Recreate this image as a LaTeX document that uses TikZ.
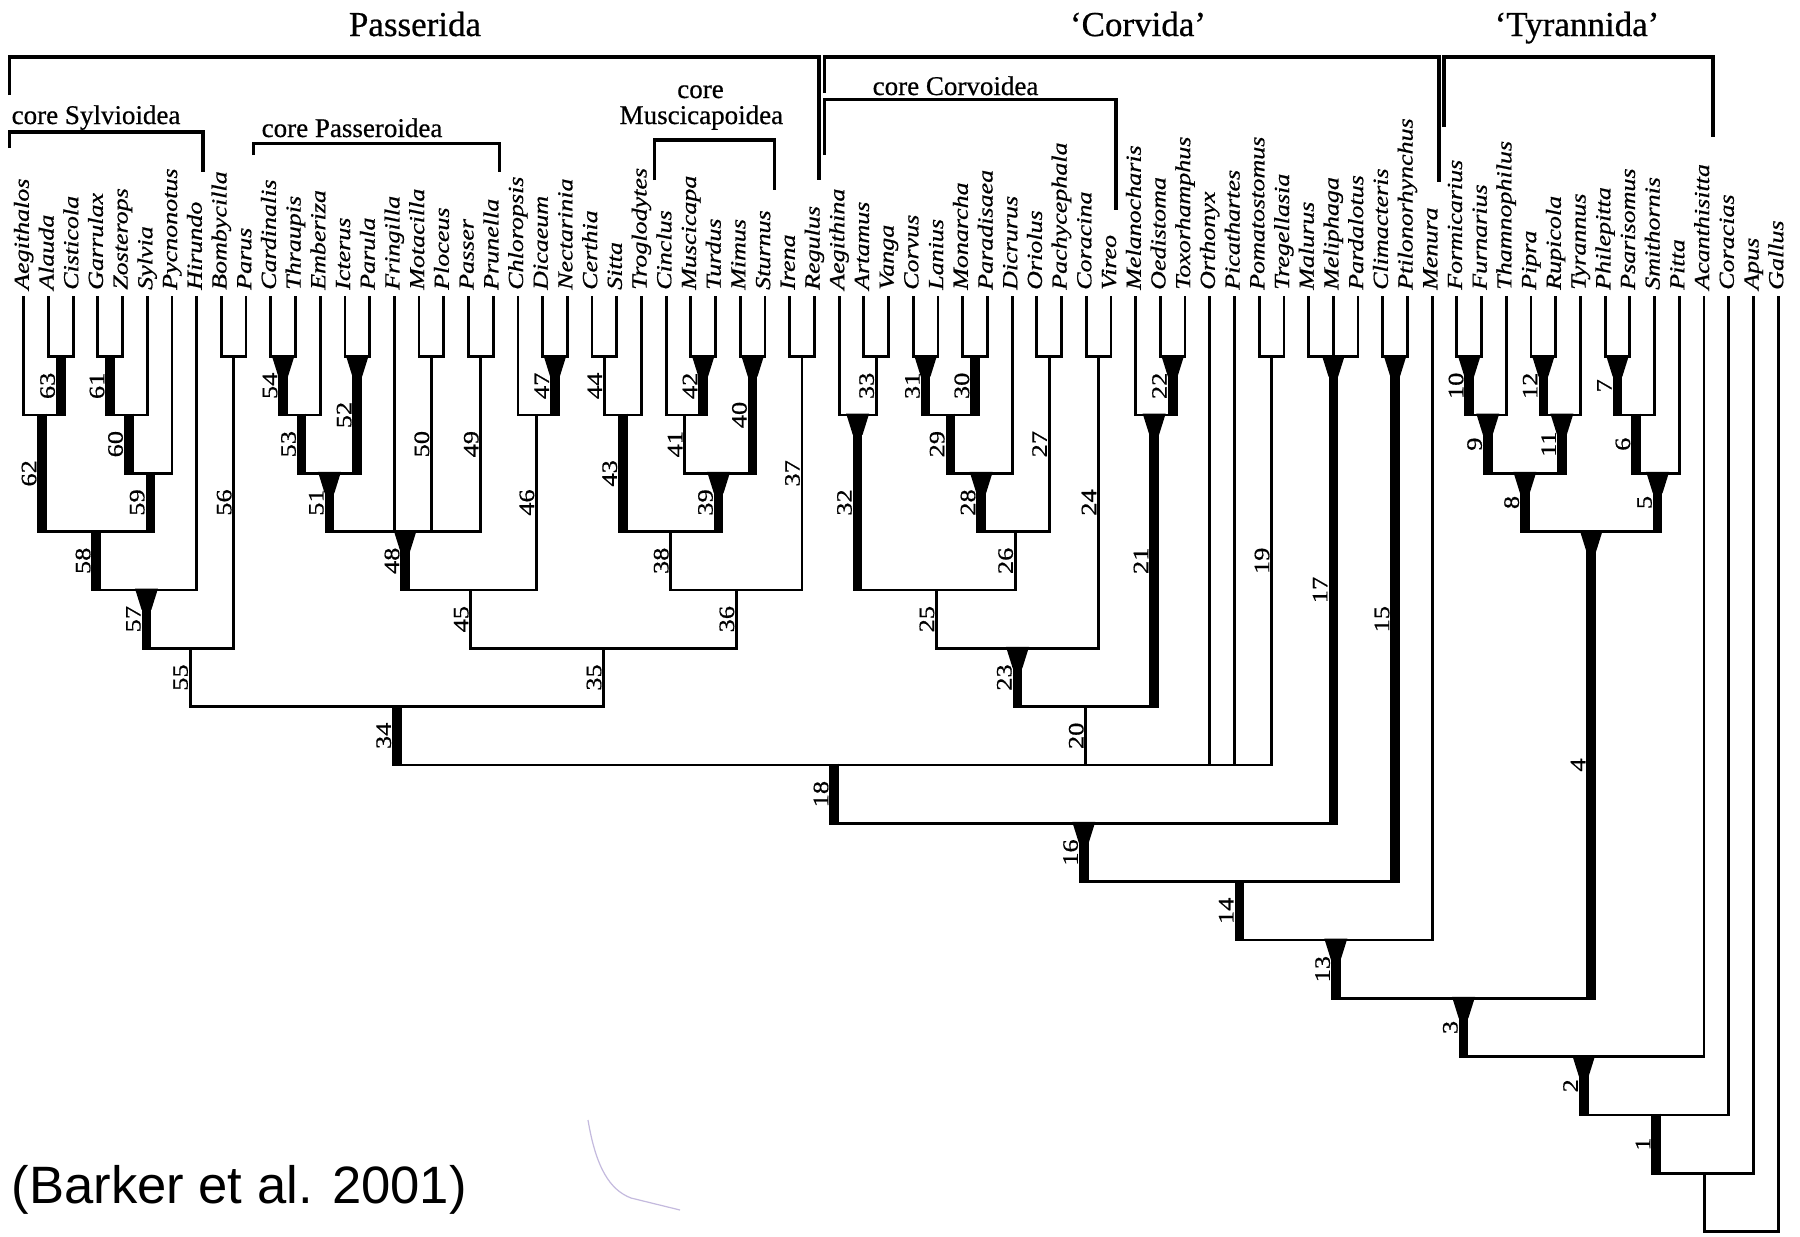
\documentclass[tikz,border=0pt]{standalone}
\usepackage{fontspec}
\setmainfont{Liberation Serif}
\newfontfamily\labfont[FakeBold=0.6]{Liberation Serif}
\newfontfamily\capfont{Liberation Sans}
\usepackage{graphicx}
\usetikzlibrary{calc}

\tikzset{
  br/.style={line width=2.8pt, line cap=rect},
  thk/.style={line width=9.6pt, shorten <=-1.4pt, shorten >=-1.4pt},
  brk/.style={line width=3.2pt, line join=miter},
  taxon/.style={rotate=90, anchor=west, inner sep=0pt, font=\labfont\fontsize{21.5}{24}\selectfont\itshape, text height=15pt, text depth=4.8pt},
  num/.style={rotate=90, anchor=south, inner sep=0pt, font=\labfont\fontsize{22}{24}\selectfont, text height=14.9pt, text depth=0pt},
  grp/.style={inner sep=0pt, font=\labfont\fontsize{35}{40}\selectfont},
  sub/.style={inner sep=0pt, font=\labfont\fontsize{27}{30}\selectfont}
}

\newcommand\mkclade[4]{\coordinate (tmpa) at ($(#2)!.5!(#3)$); \coordinate (#1) at (tmpa |- #4); \draw[br] (#2 |- #1) -- (#3 |- #1);}
\newcommand\tipsto[2]{\foreach \j in {#2}{\draw[br] (t\j) -- (t\j |- #1);}}
\newcommand\stemlab[4]{\coordinate (tmpb) at (#1 |- #2); \node[num] (lab#3) at ($(#1)!.5!(tmpb)+(-#4,0)$) {\scalebox{1.2}[1]{#3}};}
\newcommand\brthin[3]{\draw[br] (#1) -- (#1 |- #2); \stemlab{#1}{#2}{#3}{2.2}}
\newcommand\brthick[3]{\draw[thk] (#1) -- (#1 |- #2); \stemlab{#1}{#2}{#3}{5.8}}
\newcommand\brwedge[3]{\fill ($(#1)+(-11.5,-1.4)$) -- ($(#1)+(11.5,-1.4)$) -- ($(#1)+(4.8,20)$) -- ($(#1)+(-4.8,20)$) -- cycle; \draw[thk] ($(#1)+(0,19)$) -- (#1 |- #2); \stemlab{#1}{#2}{#3}{5.8}}

\begin{document}
\begin{tikzpicture}[x=1pt,y=-1pt]
\useasboundingbox (0,0) rectangle (1800,1237);
\fill[white] (0,0) rectangle (1800,1237);

% levels
\foreach \k in {1,...,16} {\coordinate (L\k) at (0,{298.33+58.33*\k});}

% taxa
\foreach \nm [count=\i] in {Aegithalos,Alauda,Cisticola,Garrulax,Zosterops,Sylvia,Pycnonotus,Hirundo,Bombycilla,Parus,Cardinalis,Thraupis,Emberiza,Icterus,Parula,Fringilla,Motacilla,Ploceus,Passer,Prunella,Chloropsis,Dicaeum,Nectarinia,Certhia,Sitta,Troglodytes,Cinclus,Muscicapa,Turdus,Mimus,Sturnus,Irena,Regulus,Aegithina,Artamus,Vanga,Corvus,Lanius,Monarcha,Paradisaea,Dicrurus,Oriolus,Pachycephala,Coracina,Vireo,Melanocharis,Oedistoma,Toxorhamphus,Orthonyx,Picathartes,Pomatostomus,Tregellasia,Malurus,Meliphaga,Pardalotus,Climacteris,Ptilonorhynchus,Menura,Formicarius,Furnarius,Thamnophilus,Pipra,Rupicola,Tyrannus,Philepitta,Psarisomus,Smithornis,Pitta,Acanthisitta,Coracias,Apus,Gallus} {
  \coordinate (t\i) at ({23.7+(\i-1)*24.71},297);
  \node[taxon] (tx\i) at ({23.7+(\i-1)*24.71},290) {\scalebox{1.21}[1]{\nm}};
}

% clades (bars)
\mkclade{N63}{t2}{t3}{L1}
\mkclade{N62}{t1}{N63}{L2}
\mkclade{N61}{t4}{t5}{L1}
\mkclade{N60}{N61}{t6}{L2}
\mkclade{N59}{N60}{t7}{L3}
\mkclade{N58}{N62}{N59}{L4}
\mkclade{N57}{N58}{t8}{L5}
\mkclade{N56}{t9}{t10}{L1}
\mkclade{N55}{N57}{N56}{L6}
\mkclade{N54}{t11}{t12}{L1}
\mkclade{N53}{N54}{t13}{L2}
\mkclade{N52}{t14}{t15}{L1}
\mkclade{N51}{N53}{N52}{L3}
\mkclade{N50}{t17}{t18}{L1}
\mkclade{N49}{t19}{t20}{L1}
\mkclade{N48}{N51}{N49}{L4}
\mkclade{N47}{t22}{t23}{L1}
\mkclade{N46}{t21}{N47}{L2}
\mkclade{N45}{N48}{N46}{L5}
\mkclade{N44}{t24}{t25}{L1}
\mkclade{N43}{N44}{t26}{L2}
\mkclade{N42}{t28}{t29}{L1}
\mkclade{N41}{t27}{N42}{L2}
\mkclade{N40}{t30}{t31}{L1}
\mkclade{N39}{N41}{N40}{L3}
\mkclade{N38}{N43}{N39}{L4}
\mkclade{N37}{t32}{t33}{L1}
\mkclade{N36}{N38}{N37}{L5}
\mkclade{N35}{N45}{N36}{L6}
\mkclade{N34}{N55}{N35}{L7}
\mkclade{N33}{t35}{t36}{L1}
\mkclade{N32}{t34}{N33}{L2}
\mkclade{N31}{t37}{t38}{L1}
\mkclade{N30}{t39}{t40}{L1}
\mkclade{N29}{N31}{N30}{L2}
\mkclade{N28}{N29}{t41}{L3}
\mkclade{N27}{t42}{t43}{L1}
\mkclade{N26}{N28}{N27}{L4}
\mkclade{N25}{N32}{N26}{L5}
\mkclade{N24}{t44}{t45}{L1}
\mkclade{N23}{N25}{N24}{L6}
\mkclade{N22}{t47}{t48}{L1}
\mkclade{N21}{t46}{N22}{L2}
\mkclade{N20}{N23}{N21}{L7}
\mkclade{N19}{t51}{t52}{L1}
\mkclade{N18}{N34}{N19}{L8}
\mkclade{N17}{t53}{t55}{L1}
\mkclade{N16}{N18}{N17}{L9}
\mkclade{N15}{t56}{t57}{L1}
\mkclade{N14}{N16}{N15}{L10}
\mkclade{N13}{N14}{t58}{L11}
\mkclade{N10}{t59}{t60}{L1}
\mkclade{N9}{N10}{t61}{L2}
\mkclade{N12}{t62}{t63}{L1}
\mkclade{N11}{N12}{t64}{L2}
\mkclade{N8}{N9}{N11}{L3}
\mkclade{N7}{t65}{t66}{L1}
\mkclade{N6}{N7}{t67}{L2}
\mkclade{N5}{N6}{t68}{L3}
\mkclade{N4}{N8}{N5}{L4}
\mkclade{N3}{N13}{N4}{L12}
\mkclade{N2}{N3}{t69}{L13}
\mkclade{N1}{N2}{t70}{L14}
\mkclade{N0}{N1}{t71}{L15}
\mkclade{R}{N0}{t72}{L16}

% tip lines
\tipsto{N62}{1}\tipsto{N63}{2,3}\tipsto{N61}{4,5}\tipsto{N60}{6}\tipsto{N59}{7}
\tipsto{N57}{8}\tipsto{N56}{9,10}\tipsto{N54}{11,12}\tipsto{N53}{13}\tipsto{N52}{14,15}
\tipsto{N48}{16}\tipsto{N50}{17,18}\tipsto{N49}{19,20}\tipsto{N46}{21}\tipsto{N47}{22,23}
\tipsto{N44}{24,25}\tipsto{N43}{26}\tipsto{N41}{27}\tipsto{N42}{28,29}\tipsto{N40}{30,31}
\tipsto{N37}{32,33}\tipsto{N32}{34}\tipsto{N33}{35,36}\tipsto{N31}{37,38}\tipsto{N30}{39,40}
\tipsto{N28}{41}\tipsto{N27}{42,43}\tipsto{N24}{44,45}\tipsto{N21}{46}\tipsto{N22}{47,48}
\tipsto{N18}{49,50}\tipsto{N19}{51,52}\tipsto{N17}{53,54,55}\tipsto{N15}{56,57}\tipsto{N13}{58}
\tipsto{N10}{59,60}\tipsto{N9}{61}\tipsto{N12}{62,63}\tipsto{N11}{64}\tipsto{N7}{65,66}
\tipsto{N6}{67}\tipsto{N5}{68}\tipsto{N2}{69}\tipsto{N1}{70}\tipsto{N0}{71}\tipsto{R}{72}

% internal stems
\brthick{N63}{N62}{63}
\brthick{N62}{N58}{62}
\brthick{N61}{N60}{61}
\brthick{N60}{N59}{60}
\brthick{N59}{N58}{59}
\brthick{N58}{N57}{58}
\brwedge{N57}{N55}{57}
\brthin{N56}{N55}{56}
\brthin{N55}{N34}{55}
\brwedge{N54}{N53}{54}
\brthick{N53}{N51}{53}
\brwedge{N52}{N51}{52}
\brwedge{N51}{N48}{51}
\brthin{N50}{N48}{50}
\brthin{N49}{N48}{49}
\brwedge{N48}{N45}{48}
\brwedge{N47}{N46}{47}
\brthin{N46}{N45}{46}
\brthin{N45}{N35}{45}
\brthin{N44}{N43}{44}
\brthick{N43}{N38}{43}
\brwedge{N42}{N41}{42}
\brthin{N41}{N39}{41}
\brwedge{N40}{N39}{40}
\brwedge{N39}{N38}{39}
\brthin{N38}{N36}{38}
\brthin{N37}{N36}{37}
\brthin{N36}{N35}{36}
\brthin{N35}{N34}{35}
\brthick{N34}{N18}{34}
\brthin{N33}{N32}{33}
\brwedge{N32}{N25}{32}
\brwedge{N31}{N29}{31}
\brthick{N30}{N29}{30}
\brthick{N29}{N28}{29}
\brwedge{N28}{N26}{28}
\brthin{N27}{N26}{27}
\brthin{N26}{N25}{26}
\brthin{N25}{N23}{25}
\brthin{N24}{N23}{24}
\brwedge{N23}{N20}{23}
\brwedge{N22}{N21}{22}
\brwedge{N21}{N20}{21}
\brthin{N20}{N18}{20}
\brthin{N19}{N18}{19}
\brthick{N18}{N16}{18}
\brwedge{N17}{N16}{17}
\brwedge{N16}{N14}{16}
\brwedge{N15}{N14}{15}
\brthick{N14}{N13}{14}
\brwedge{N13}{N3}{13}
\brwedge{N10}{N9}{10}
\brwedge{N9}{N8}{9}
\brwedge{N12}{N11}{12}
\brwedge{N11}{N8}{11}
\brwedge{N8}{N4}{8}
\brwedge{N7}{N6}{7}
\brthick{N6}{N5}{6}
\brwedge{N5}{N4}{5}
\brwedge{N4}{N3}{4}
\brwedge{N3}{N2}{3}
\brwedge{N2}{N1}{2}
\brthick{N1}{N0}{1}
\draw[br] (N0) -- (N0 |- R);

% group brackets
\draw[brk] (9.6,95) -- (9.6,57) -- (819,57) -- (819,180);
\draw[brk] (824.5,93) -- (824.5,57) -- (1439,57) -- (1439,182);
\draw[brk] (1444,127) -- (1444,57) -- (1713,57) -- (1713,137);
\draw[brk] (9.6,148) -- (9.6,132) -- (203,132) -- (203,172);
\draw[brk] (253.7,155) -- (253.7,143.3) -- (499.4,143.3) -- (499.4,171.7);
\draw[brk] (654.7,180) -- (654.7,140) -- (774.1,140) -- (774.1,190);
\draw[brk] (824.5,155) -- (824.5,99.5) -- (1116,99.5) -- (1116,210);

% group labels
\node[grp, anchor=base] (passerida) at (415,36) {Passerida};
\node[grp, anchor=base] (corvida) at (1138,36) {‘Corvida’};
\node[grp, anchor=base] (tyrannida) at (1577,36) {‘Tyrannida’};
\node[sub, anchor=base west] (csyl) at (11.5,124) {core Sylvioidea};
\node[sub, anchor=base west] (cpas) at (261.5,137) {core Passeroidea};
\node[sub, anchor=base] (cmus1) at (700.5,98) {core};
\node[sub, anchor=base] (cmus2) at (701.4,124) {Muscicapoidea};
\node[sub, anchor=base west] (ccor) at (872.5,95) {core Corvoidea};

% caption
\node[anchor=base west, inner sep=0pt, font=\capfont\fontsize{52.6}{60}\selectfont] (cap) at (11.5,1203) {(Barker et al. 2001)};

% faint scan mark
\draw[line width=1.2pt, color={rgb,255:red,196;green,186;blue,222}] (588,1120) .. controls (596,1168) and (610,1190) .. (631,1198) -- (680,1210);
\end{tikzpicture}
\end{document}
